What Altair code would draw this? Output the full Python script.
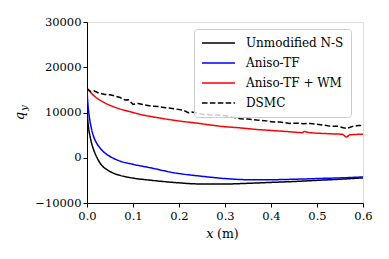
import altair as alt
import pandas as pd

names = ["Unmodified N-S", "Aniso-TF", "Aniso-TF + WM", "DSMC"]
colors = ["black", "blue", "red", "black"]
dashes = [[1, 0], [1, 0], [1, 0], [5.5, 2.4]]

ns_x = [0, 0.0015, 0.0035, 0.0065, 0.01, 0.014, 0.02, 0.028, 0.035, 0.043, 0.055, 0.072, 0.1, 0.137, 0.188, 0.25, 0.3, 0.35, 0.4, 0.45, 0.5, 0.55, 0.6]
ns_y = [11000, 8500, 6500, 4800, 3200, 1900, 400, -1100, -2000, -2600, -3300, -3900, -4500, -4950, -5450, -5800, -5800, -5650, -5450, -5250, -5000, -4750, -4450]

tf_x = [0, 0.0015, 0.0035, 0.0065, 0.01, 0.014, 0.02, 0.028, 0.035, 0.043, 0.057, 0.072, 0.1, 0.137, 0.188, 0.25, 0.3, 0.35, 0.4, 0.45, 0.5, 0.55, 0.6]
tf_y = [15000, 12500, 10200, 8100, 6300, 4800, 3400, 2200, 1400, 730, -100, -750, -1450, -2200, -3300, -4100, -4600, -4850, -4850, -4750, -4600, -4450, -4250]

wm_x = [0, 0.01, 0.02, 0.032, 0.045, 0.057, 0.068, 0.093, 0.115, 0.14, 0.188, 0.242, 0.296, 0.333, 0.369, 0.405, 0.44, 0.468, 0.473, 0.48, 0.528, 0.555, 0.564, 0.572, 0.6]
wm_y = [15300, 14200, 13300, 12500, 11800, 11300, 10900, 10200, 9600, 9100, 8300, 7600, 6900, 6600, 6250, 6000, 5750, 5550, 5800, 5600, 5300, 5180, 4600, 5080, 5200]

ds_x = [0, 0.008, 0.015, 0.024, 0.039, 0.05, 0.061, 0.072, 0.083, 0.09, 0.1, 0.111, 0.125, 0.14, 0.155, 0.17, 0.185, 0.198, 0.21, 0.22, 0.228, 0.253, 0.275, 0.296, 0.315, 0.333, 0.35, 0.369, 0.39, 0.405, 0.42, 0.441, 0.455, 0.47, 0.485, 0.5, 0.515, 0.528, 0.545, 0.557, 0.565, 0.579, 0.59, 0.6]
ds_y = [15300, 14600, 14800, 14380, 14000, 13900, 13630, 13300, 12740, 12800, 11800, 12000, 11700, 11420, 11300, 11060, 10900, 10690, 10500, 9950, 10090, 9580, 9450, 9360, 9000, 8620, 8550, 8320, 8150, 7880, 7900, 7590, 7650, 7520, 7590, 7400, 7200, 6990, 6950, 6640, 6500, 6990, 7100, 7150]

x_ticks = [0, 0.1, 0.2, 0.3, 0.4, 0.5, 0.6]
y_ticks = [-10000, 0, 10000, 20000, 30000]

rows = []
for name, xs, ys in [(names[0], ns_x, ns_y), (names[1], tf_x, tf_y), (names[2], wm_x, wm_y), (names[3], ds_x, ds_y)]:
    for i, (a, b) in enumerate(zip(xs, ys)):
        rows.append({"series": name, "x": a, "y": b, "order": i})
df = pd.DataFrame(rows)

FONT = "DejaVu Serif"

xenc = alt.X("x:Q", scale=alt.Scale(domain=[0, 0.6], nice=False, zero=False),
             axis=alt.Axis(values=x_ticks, format=".1f", title=None, grid=False,
                           domainColor="black", tickColor="black", tickSize=4,
                           labelFont=FONT, labelFontSize=11.5, labelColor="black",
                           labelFlush=False, labelOverlap=False,
                           labelPadding=3, domainWidth=1, tickWidth=1))
yenc = alt.Y("y:Q", scale=alt.Scale(domain=[-10000, 30000], nice=False, zero=False),
             axis=alt.Axis(values=y_ticks, format="d", title=None, grid=False,
                           domainColor="black", tickColor="black", tickSize=4,
                           labelFont=FONT, labelFontSize=11.5, labelColor="black",
                           labelFlush=False, labelOverlap=False,
                           labelPadding=2, domainWidth=1, tickWidth=1))

leg = alt.Legend(title=None, orient="none", legendX=107, legendY=7,
                 symbolType="stroke", symbolSize=1089, symbolStrokeWidth=1.5,
                 clipHeight=14, rowPadding=6, labelOffset=10, padding=7,
                 labelFont=FONT, labelFontSize=12, labelColor="black",
                 fillColor="rgba(255,255,255,0.8)", strokeColor="#cccccc",
                 cornerRadius=3)

color = alt.Color("series:N", sort=names, scale=alt.Scale(domain=names, range=colors), legend=leg)
dash = alt.StrokeDash("series:N", sort=names, scale=alt.Scale(domain=names, range=dashes), legend=leg)

smooth = alt.Chart(df).transform_filter(alt.datum.series != "DSMC").mark_line(
    strokeWidth=1.5, interpolate="monotone", clip=True
).encode(x=xenc, y=yenc, color=color, strokeDash=dash, order="order:Q")

dsmc = alt.Chart(df).transform_filter(alt.datum.series == "DSMC").mark_line(
    strokeWidth=1.5, clip=True
).encode(x=xenc, y=yenc, color=color, strokeDash=dash, order="order:Q")

tdf = pd.DataFrame({"k": [0]})
xt1 = alt.Chart(tdf).mark_text(text="x", font=FONT, fontSize=13, fontStyle="italic",
                               align="center", baseline="alphabetic", color="black").encode(
    x=alt.value(123), y=alt.value(216))
xt2 = alt.Chart(tdf).mark_text(text="(m)", font=FONT, fontSize=12.5,
                               align="left", baseline="alphabetic", color="black").encode(
    x=alt.value(130), y=alt.value(216))
yt1 = alt.Chart(tdf).mark_text(text="q", font=FONT, fontSize=13, fontStyle="italic", angle=270,
                               align="center", baseline="alphabetic", color="black").encode(
    x=alt.value(-63), y=alt.value(94))
yt2 = alt.Chart(tdf).mark_text(text="y", font=FONT, fontSize=9.5, fontStyle="italic", angle=270,
                               align="center", baseline="alphabetic", color="black").encode(
    x=alt.value(-60), y=alt.value(86))

chart = alt.layer(smooth, dsmc, xt1, xt2, yt1, yt2).properties(
    width=276, height=181,
    autosize=alt.AutoSizeParams(type="none"),
    padding={"left": 79, "top": 14, "right": 18, "bottom": 48},
).configure_view(stroke="black", strokeWidth=1).configure(background="white")

chart.save("out.html", embed_options={"renderer": "svg", "actions": False})
